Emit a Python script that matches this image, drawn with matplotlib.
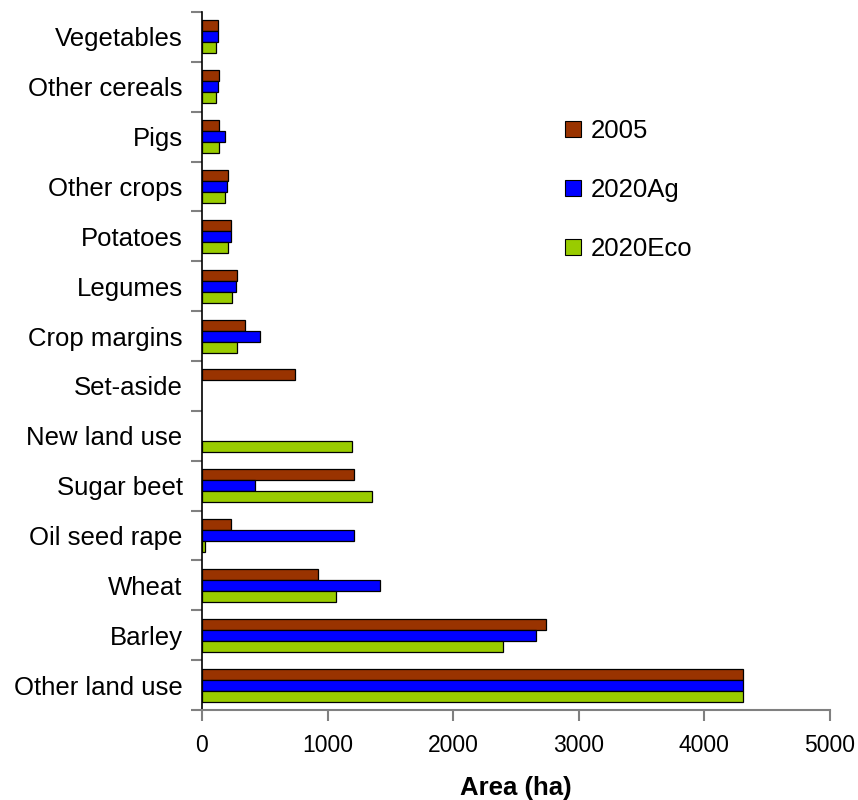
import numpy as np
import matplotlib.pyplot as plt
from matplotlib.patches import Patch

plt.rcParams["font.family"] = ["Liberation Sans", "DejaVu Sans"]

categories = ["Other land use", "Barley", "Wheat", "Oil seed rape", "Sugar beet",
              "New land use", "Set-aside", "Crop margins", "Legumes", "Potatoes",
              "Other crops", "Pigs", "Other cereals", "Vegetables"]
v2005 = [4307, 2739, 926, 233, 1209, 0, 741, 344, 280, 228, 204, 138, 138, 130]
v2020ag = [4307, 2663, 1418, 1209, 423, 0, 0, 458, 272, 228, 196, 183, 130, 130]
v2020eco = [4307, 2393, 1069, 24, 1352, 1193, 0, 280, 241, 204, 183, 138, 111, 111]
series = ["2005", "2020Ag", "2020Eco"]
colors = ["#993300", "#0000FF", "#99CC00"]

fig = plt.figure(figsize=(8.58, 8), dpi=100)
ax = fig.add_axes([202 / 858, 1 - 710 / 800, 628 / 858, 698 / 800])

y = np.arange(len(categories))
h = 0.22
for i, (vals, c) in enumerate(zip([v2005, v2020ag, v2020eco], colors)):
    lw = [0.9 if v > 0 else 0 for v in vals]
    ax.barh(y + h * (1 - i), vals, height=h, color=c, edgecolor="black", linewidth=lw)

ax.set_xlim(0, 5000)
ax.set_ylim(-0.5, len(categories) - 0.5)
ax.set_xticks(range(0, 5001, 1000))
ax.set_yticks(y)
ax.set_yticklabels(categories, fontsize=18.5)
ax.set_yticks(np.arange(-0.5, len(categories), 1), minor=True)
ax.tick_params(axis="y", which="major", length=0, pad=14)
ax.tick_params(axis="y", which="minor", length=8, color="#808080", width=1.5)
ax.tick_params(axis="x", length=8, color="#808080", width=1.5, labelsize=16.5, pad=9)
ax.spines[["top", "right"]].set_visible(False)
ax.spines["bottom"].set_color("#808080")
ax.spines["bottom"].set_linewidth(1.5)
ax.spines["left"].set_linewidth(1.2)
ax.set_xlabel("Area (ha)", fontsize=18.5, fontweight="bold", labelpad=14)

handles = [Patch(facecolor=c, edgecolor="black", linewidth=0.8) for c in colors]
fig.legend(handles, series, loc="upper left", bbox_to_anchor=(542 / 858, 1 - 96 / 800),
           frameon=False, fontsize=18.5, handlelength=0.6, handleheight=0.6,
           handletextpad=0.4, labelspacing=1.36)

plt.savefig("out.png", dpi=100)
